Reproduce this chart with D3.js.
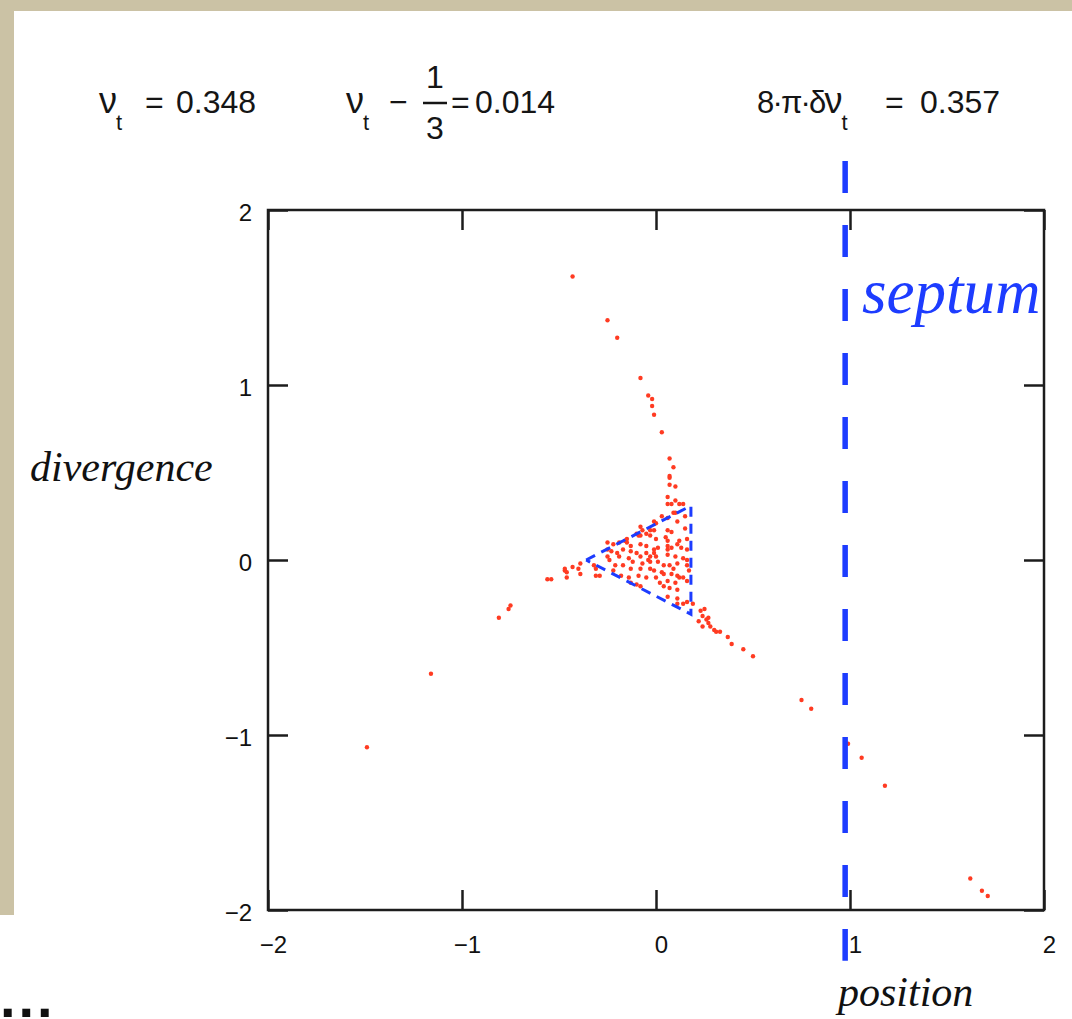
<!DOCTYPE html>
<html>
<head>
<meta charset="utf-8">
<script src="https://cdn.jsdelivr.net/npm/d3@7"></script>
<style>
  html, body { margin: 0; padding: 0; background: #fff; }
  svg { display: block; }
</style>
</head>
<body>
<script>
// ---------- data ----------
const xTickValues = [-2, -1, 0, 1, 2];
const yTickValues = [-2, -1, 0, 1, 2];
const tuneValues = ["0.348", "0.014", "0.357"];   // ν_t, ν_t − 1/3, 8·π·δν_t
const axisTitles = ["position", "divergence"];
const septumLabel = "septum";
const septumX = 0.975;
const septumSpan = [2.28, -2.29];
const separatrix = [[-0.36, 0.0], [0.18, 0.31], [0.18, -0.31]];

const armUpper = [[-0.43,1.62],[-0.25,1.37],[-0.20,1.27],[-0.08,1.04],[-0.04,0.94],[-0.02,0.92],[-0.02,0.88],[-0.01,0.83],[0.03,0.73],[0.07,0.58],[0.09,0.53],[0.07,0.48],[0.07,0.47]];
const armLeft = [[-0.56,-0.11],[-0.54,-0.11],[-0.46,-0.07],[-0.46,-0.10],[-0.47,-0.06],[-0.43,-0.04],[-0.39,-0.08],[-0.75,-0.26],[-0.76,-0.28],[-0.81,-0.33],[-1.16,-0.65],[-1.49,-1.07]];
const armLower = [[0.25,-0.28],[0.22,-0.35],[0.24,-0.38],[0.27,-0.33],[0.27,-0.36],[0.28,-0.38],[0.30,-0.40],[0.31,-0.41],[0.33,-0.41],[0.37,-0.44],[0.39,-0.48],[0.45,-0.51],[0.50,-0.55],[0.75,-0.80],[0.80,-0.85],[0.99,-1.05],[1.06,-1.13],[1.18,-1.29],[1.62,-1.82],[1.68,-1.89],[1.71,-1.92]];
const core = [[0.07,0.43],[0.10,0.42],[0.06,0.36],[0.10,0.34],[0.06,0.32],[0.08,0.32],[0.12,0.32],[0.14,0.32],[0.09,0.27],[0.10,0.27],[0.15,0.25],[0.03,0.25],[-0.01,0.22],[0.00,0.21],[0.06,0.24],[0.11,0.22],[0.15,0.18],[-0.08,0.19],[-0.07,0.17],[-0.03,0.17],[-0.01,0.17],[0.06,0.17],[0.08,0.16],[-0.10,0.15],[-0.09,0.14],[-0.08,0.14],[-0.05,0.15],[-0.03,0.14],[-0.16,0.11],[-0.15,0.10],[-0.15,0.12],[0.00,0.12],[0.05,0.13],[0.06,0.11],[0.12,0.11],[0.16,0.12],[-0.25,0.10],[-0.22,0.09],[-0.19,0.10],[-0.13,0.08],[-0.08,0.09],[-0.05,0.08],[-0.01,0.06],[0.01,0.07],[0.06,0.08],[0.08,0.07],[0.11,0.09],[0.13,0.07],[0.16,0.06],[-0.25,0.06],[-0.23,0.05],[-0.20,0.04],[-0.17,0.06],[-0.13,0.05],[-0.10,0.04],[-0.08,0.02],[-0.05,0.04],[-0.03,0.02],[-0.01,0.04],[0.00,0.02],[0.06,0.06],[0.06,0.03],[0.10,0.02],[0.14,0.01],[0.16,0.00],[-0.25,0.02],[-0.24,0.00],[-0.19,0.02],[-0.14,0.01],[-0.12,-0.01],[-0.07,-0.02],[-0.04,0.00],[-0.03,-0.01],[0.01,-0.01],[0.04,-0.03],[0.07,-0.03],[0.09,-0.05],[0.11,-0.02],[0.16,-0.03],[0.17,-0.06],[-0.32,-0.03],[-0.31,-0.05],[-0.21,-0.03],[-0.17,-0.03],[-0.13,-0.05],[-0.08,-0.05],[-0.03,-0.05],[-0.01,-0.06],[0.03,-0.07],[0.04,-0.08],[0.08,-0.08],[0.11,-0.09],[0.14,-0.10],[-0.39,-0.02],[-0.40,-0.05],[-0.47,-0.05],[-0.31,-0.09],[-0.29,-0.09],[-0.22,-0.06],[-0.18,-0.09],[-0.14,-0.10],[-0.09,-0.09],[-0.05,-0.10],[0.00,-0.10],[0.06,-0.12],[0.10,-0.13],[0.12,-0.10],[0.16,-0.12],[-0.10,-0.14],[-0.08,-0.15],[-0.13,-0.13],[0.02,-0.13],[0.04,-0.15],[0.07,-0.16],[0.11,-0.17],[0.06,-0.21],[0.11,-0.22],[0.16,-0.24],[0.11,-0.25],[0.14,-0.25],[0.19,-0.25],[0.23,-0.29],[0.24,-0.32],[0.26,-0.34]];

// ---------- layout ----------
const W = 1072, H = 1019;
const svg = d3.select("body").append("svg").attr("width", W).attr("height", H);

svg.append("rect").attr("width", W).attr("height", H).attr("fill", "#cbc2a5");
svg.append("rect").attr("x", 14).attr("y", 11).attr("width", W - 14).attr("height", H - 11).attr("fill", "#fff");
svg.append("rect").attr("x", 0).attr("y", 915).attr("width", 14).attr("height", H - 915).attr("fill", "#fff");

const x = d3.scaleLinear().domain([-2, 2]).range([268, 1044]);
const y = d3.scaleLinear().domain([-2, 2]).range([910, 210]);

const tickFont = "'Liberation Sans', Arial, sans-serif";
const axisColor = "#1c1c1c";
const fmt = d3.format("d");

function styleAxis(g) {
  g.select(".domain").remove();
  g.selectAll(".tick line").attr("stroke", axisColor).attr("stroke-width", 2.5);
  g.selectAll(".tick text").attr("fill", "#111").attr("font-size", 24).attr("font-family", tickFont);
}

const bottomAxis = svg.append("g").attr("transform", `translate(0,${y(-2)})`)
  .call(d3.axisBottom(x).tickValues(xTickValues).tickFormat(fmt).tickSizeInner(-20).tickSizeOuter(0).tickPadding(26))
  .call(styleAxis);
bottomAxis.selectAll(".tick text").attr("transform", "translate(5,0)");
svg.append("g").attr("transform", `translate(0,${y(2)})`)
  .call(d3.axisTop(x).tickValues(xTickValues).tickSizeInner(-20).tickSizeOuter(0).tickFormat(() => ""))
  .call(styleAxis);
const leftAxis = svg.append("g").attr("transform", `translate(${x(-2)},0)`)
  .call(d3.axisLeft(y).tickValues(yTickValues).tickFormat(fmt).tickSizeInner(-20).tickSizeOuter(0).tickPadding(16))
  .call(styleAxis);
leftAxis.selectAll(".tick text").attr("transform", "translate(0,3)");
svg.append("g").attr("transform", `translate(${x(2)},0)`)
  .call(d3.axisRight(y).tickValues(yTickValues).tickSizeInner(-20).tickSizeOuter(0).tickFormat(() => ""))
  .call(styleAxis);

// frame
svg.append("rect")
  .attr("x", x(-2)).attr("y", y(2))
  .attr("width", x(2) - x(-2)).attr("height", y(-2) - y(2))
  .attr("fill", "none").attr("stroke", axisColor).attr("stroke-width", 2.5);

// particles
const allPts = [].concat(armUpper, armLeft, armLower, core);
svg.append("g").selectAll("circle").data(allPts).join("circle")
  .attr("cx", d => x(d[0])).attr("cy", d => y(d[1]))
  .attr("r", 2.2).attr("fill", "#ff3b22");

// separatrix triangle
const blue = "#1d3cff";
svg.append("path")
  .attr("d", d3.line().x(d => x(d[0])).y(d => y(d[1]))(separatrix.concat([separatrix[0]])))
  .attr("fill", "none").attr("stroke", blue).attr("stroke-width", 3)
  .attr("stroke-dasharray", "10,7");

// septum
svg.append("line")
  .attr("x1", x(septumX)).attr("x2", x(septumX))
  .attr("y1", y(septumSpan[0])).attr("y2", y(septumSpan[1]))
  .attr("stroke", blue).attr("stroke-width", 5.5).attr("stroke-dasharray", "32,32");

const serif = "'Liberation Serif', 'Times New Roman', serif";
svg.append("text").attr("x", 862).attr("y", 313)
  .attr("font-family", serif).attr("font-style", "italic")
  .attr("font-size", 63).attr("fill", blue).text(septumLabel);

// axis titles
svg.append("text").attr("x", 838).attr("y", 1006).attr("font-family", serif).attr("font-style", "italic")
  .attr("font-size", 42).attr("fill", "#111").text(axisTitles[0]);
svg.append("text").attr("x", 30).attr("y", 481).attr("font-family", serif).attr("font-style", "italic")
  .attr("font-size", 42).attr("fill", "#111").text(axisTitles[1]);

// ellipsis bottom-left (cut by the picture edge, as in the reference)
svg.append("text").attr("x", 0).attr("y", 1017).attr("font-family", "'Liberation Sans', Arial, sans-serif")
  .attr("font-weight", "bold").attr("font-size", 56).attr("letter-spacing", 3).attr("fill", "#111").text("...");

// header formulas
const hf = "'Liberation Sans', Arial, sans-serif";
const head = svg.append("g").attr("fill", "#151515").attr("font-family", hf);

// ν_t = 0.348
const t1 = head.append("text").attr("x", 99).attr("y", 113).attr("font-size", 32);
t1.append("tspan").attr("font-size", 36).text("ν");
t1.append("tspan").attr("font-size", 22).attr("dy", 17).attr("dx", -1).text("t");
t1.append("tspan").attr("x", 145).attr("dy", -17).text("=");
t1.append("tspan").attr("x", 176).text(tuneValues[0]);

// ν_t − 1/3 = 0.014
const t2 = head.append("text").attr("x", 346).attr("y", 113).attr("font-size", 32);
t2.append("tspan").attr("font-size", 36).text("ν");
t2.append("tspan").attr("font-size", 22).attr("dy", 17).attr("dx", -1).text("t");
t2.append("tspan").attr("x", 389).attr("dy", -17).text("−");
head.append("text").attr("x", 435).attr("y", 88).attr("font-size", 32).attr("text-anchor", "middle").text("1");
head.append("text").attr("x", 435).attr("y", 139).attr("font-size", 32).attr("text-anchor", "middle").text("3");
head.append("line").attr("x1", 423).attr("x2", 447).attr("y1", 103).attr("y2", 103)
  .attr("stroke", "#151515").attr("stroke-width", 2.5);
const t2b = head.append("text").attr("x", 451).attr("y", 113).attr("font-size", 32);
t2b.append("tspan").text("=");
t2b.append("tspan").attr("x", 475).text(tuneValues[1]);

// 8·π·δν_t = 0.357
const t3 = head.append("text").attr("x", 757).attr("y", 113).attr("font-size", 31);
t3.append("tspan").attr("letter-spacing", -1.8).text("8·π·δ");
t3.append("tspan").attr("font-size", 36).text("ν");
t3.append("tspan").attr("font-size", 22).attr("dy", 17).attr("dx", -1).text("t");
t3.append("tspan").attr("x", 885).attr("dy", -17).attr("font-size", 32).text("=");
t3.append("tspan").attr("x", 920).attr("font-size", 32).text(tuneValues[2]);
</script>
</body>
</html>
